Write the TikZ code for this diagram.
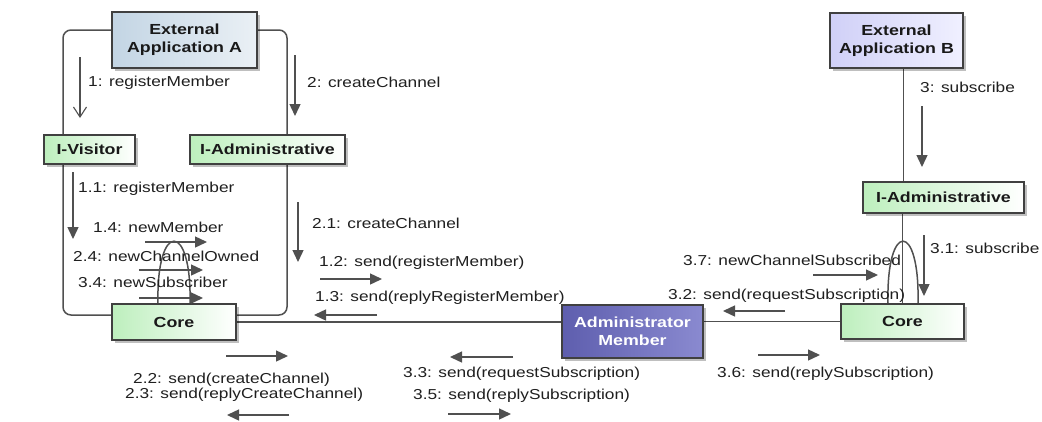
\documentclass[tikz,border=0pt]{standalone}
\usepackage{fontspec}
\setmainfont{Liberation Sans}
\newfontfamily\lblfont[FakeStretch=1.2]{Liberation Sans}
\newfontfamily\boxfont[FakeStretch=1.22]{Liberation Sans}
\usetikzlibrary{arrows.meta,shadows,calc}
\definecolor{linec}{HTML}{505050}
\definecolor{arrc}{HTML}{505050}
\definecolor{bordc}{HTML}{404040}
\definecolor{grn}{HTML}{BDEFBD}
\definecolor{extAc}{HTML}{C3D5E4}
\definecolor{extAd}{HTML}{EAF0F5}
\definecolor{extBc}{HTML}{D0D0F7}
\definecolor{extBd}{HTML}{F0F0FF}
\definecolor{admc}{HTML}{5E5EAE}
\definecolor{admd}{HTML}{8A8AD0}
\pgfdeclarelayer{bg}
\pgfdeclarelayer{canvas}
\pgfsetlayers{canvas,bg,main}
\newcommand\msgarrow[4]{\coordinate (#1s) at (#2); \coordinate (#1e) at (#3); \draw[#4] (#1s) -- (#1e);}
\tikzset{
  box/.style={draw=bordc, line width=1.2pt, inner sep=0pt, align=center,
    text=black!90, font=\boxfont\bfseries\fontsize{14.6}{18}\selectfont,
    drop shadow={shadow xshift=3pt, shadow yshift=-3pt, fill=black, opacity=0.25}},
  greenbox/.style={box, left color=grn, right color=white},
  link/.style={draw=linec, line width=1.5pt},
  msg/.style={draw=arrc, line width=1.4pt, -{Triangle[length=12pt,width=11pt]}},
  openmsg/.style={draw=linec, line width=1.1pt, -{Straight Barb[length=10pt,width=13pt,line width=1.1pt]}},
  lbl/.style={font=\lblfont\fontsize{14.4}{17}\selectfont, inner sep=0pt, anchor=base west, text=black!88}
}
\begin{document}
\begin{tikzpicture}[x=1pt,y=-1pt]
\begin{pgfonlayer}{canvas}
\fill[white] (0,0) rectangle (1042,421);
\end{pgfonlayer}
\useasboundingbox (0,0) rectangle (1042,421);

% boxes
\node[box, left color=extAc, right color=extAd, minimum width=145pt, minimum height=56pt] (extA) at (184.5,40) {External\\Application A};
\node[box, left color=extBc, right color=extBd, minimum width=133pt, minimum height=55pt] (extB) at (896.5,40.5) {External\\Application B};
\node[greenbox, minimum width=91pt, minimum height=29pt] (ivis) at (89.5,149.5) {I-Visitor};
\node[greenbox, minimum width=155pt, minimum height=29pt] (iadmA) at (267.5,149.5) {I-Administrative};
\node[greenbox, minimum width=161pt, minimum height=31pt] (iadmB) at (943.5,197.5) {I-Administrative};
\node[greenbox, minimum width=124pt, minimum height=36pt] (coreA) at (174,322) {Core};
\node[greenbox, minimum width=123pt, minimum height=35pt] (coreB) at (902.5,321.5) {Core};
\node[box, left color=admc, right color=admd, text=white, minimum width=141pt, minimum height=53pt] (adm) at (632.5,331.5) {Administrator\\Member};

% links
\begin{pgfonlayer}{bg}
\draw[link, rounded corners=8pt] ([yshift=10pt]extA.west) -| ([xshift=-26.5pt]ivis.north);
\draw[link, rounded corners=8pt] ([xshift=-26.5pt]ivis.south) |- ([yshift=7pt]coreA.west);
\draw[link, rounded corners=8pt] ([yshift=10pt]extA.east) -| ([xshift=19.5pt]iadmA.north);
\draw[link, rounded corners=8pt] ([xshift=19.5pt]iadmA.south) |- ([yshift=7pt]coreA.east);
\draw[link] (coreA.east) -- (coreA.east -| adm.west);
\draw[link] (coreB.west) -- (coreB.west -| adm.east);
\draw[link] ([xshift=7pt]extB.south) -- ([xshift=7pt]extB.south |- iadmB.north);
\draw[link] (coreB.north) -- (coreB.north |- iadmB.south);
\draw[link] ([xshift=-16pt]coreA.north) .. controls ($(coreA.north)+(-18,-83)$) and ($(coreA.north)+(18,-83)$) .. ([xshift=16pt]coreA.north);
\draw[link] ([xshift=-14.5pt]coreB.north) .. controls ($(coreB.north)+(-16.5,-83)$) and ($(coreB.north)+(17.5,-83)$) .. ([xshift=15.5pt]coreB.north);
\end{pgfonlayer}

% message arrows
\msgarrow{a1}{80,57}{80,118}{openmsg}
\msgarrow{a2}{295,55}{295,116}{msg}
\msgarrow{a3}{922,106}{922,167}{msg}
\msgarrow{a4}{73,172}{73,239}{msg}
\msgarrow{a5}{145,242}{207,242}{msg}
\msgarrow{a6}{139,270}{203,270}{msg}
\msgarrow{a7}{139,298}{203,298}{msg}
\msgarrow{a8}{298,202}{298,262}{msg}
\msgarrow{a9}{320,279}{382,279}{msg}
\msgarrow{a10}{377,315}{314,315}{msg}
\msgarrow{a11}{226,356}{288,356}{msg}
\msgarrow{a12}{289,415}{227,415}{msg}
\msgarrow{a13}{513,357}{450,357}{msg}
\msgarrow{a14}{448,414}{511,414}{msg}
\msgarrow{a15}{813,275}{878,275}{msg}
\msgarrow{a16}{785,311}{723,311}{msg}
\msgarrow{a17}{758,355}{820,355}{msg}
\msgarrow{a18}{924,235}{924,296}{msg}

% labels
\node[lbl] (l1) at (88,86) {1: registerMember};
\node[lbl] (l2) at (307,87) {2: createChannel};
\node[lbl] (l3) at (920,92) {3: subscribe};
\node[lbl] (l4) at (78,192) {1.1: registerMember};
\node[lbl] (l5) at (93,232) {1.4: newMember};
\node[lbl] (l6) at (73,261) {2.4: newChannelOwned};
\node[lbl] (l7) at (78,287) {3.4: newSubscriber};
\node[lbl] (l8) at (312,228) {2.1: createChannel};
\node[lbl] (l9) at (319,266) {1.2: send(registerMember)};
\node[lbl] (l10) at (315,301) {1.3: send(replyRegisterMember)};
\node[lbl] (l11) at (133,383) {2.2: send(createChannel)};
\node[lbl] (l12) at (125,398) {2.3: send(replyCreateChannel)};
\node[lbl] (l13) at (403,377) {3.3: send(requestSubscription)};
\node[lbl] (l14) at (413,399) {3.5: send(replySubscription)};
\node[lbl] (l15) at (683,265) {3.7: newChannelSubscribed};
\node[lbl] (l16) at (668,299) {3.2: send(requestSubscription)};
\node[lbl] (l17) at (717,377) {3.6: send(replySubscription)};
\node[lbl] (l18) at (930,253) {3.1: subscribe};
\end{tikzpicture}
\end{document}
